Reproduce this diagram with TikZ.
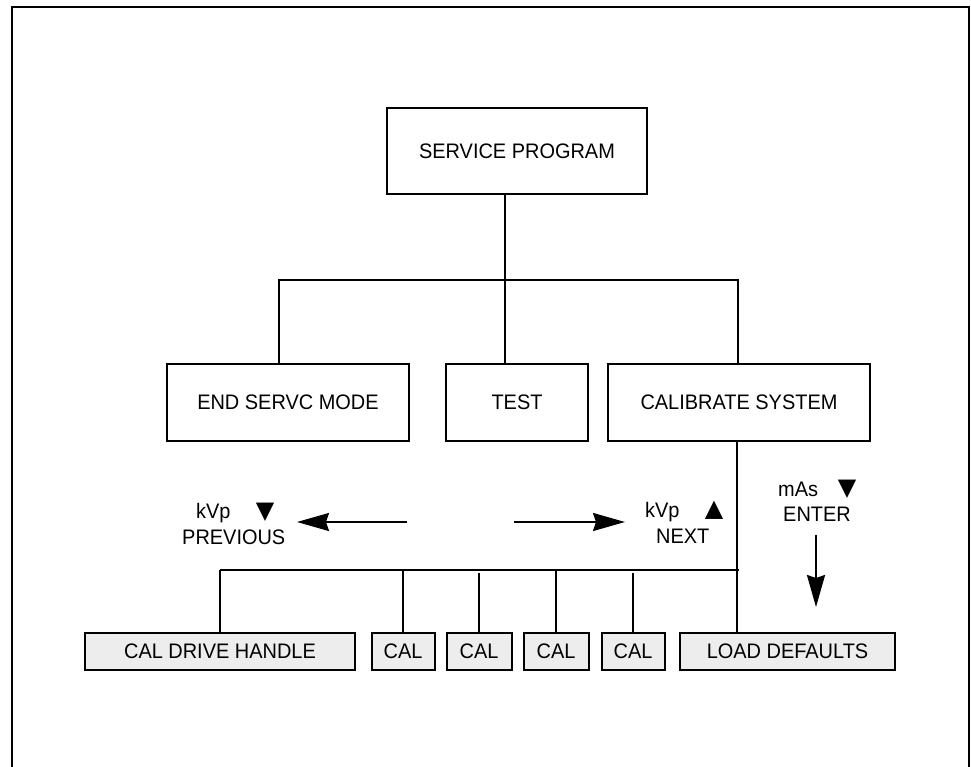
\documentclass[tikz,border=0pt]{standalone}
\usepackage{fontspec}
\setmainfont[FakeStretch=0.95]{Liberation Sans}
\newfontfamily\symfont{DejaVu Sans}
\usetikzlibrary{arrows.meta}
\begin{document}
\begin{tikzpicture}[x=1pt,y=-1pt,
  box/.style={draw, line width=2pt, inner sep=0pt, font=\fontsize{21}{25}\selectfont},
  calbox/.style={box, fill=black!7, minimum height=37pt},
  lbl/.style={inner sep=0pt, anchor=base west, font=\fontsize{21}{25}\selectfont},
  tri/.style={inner sep=0pt, font=\symfont\fontsize{24}{24}\selectfont},
  wire/.style={line width=2pt},
  arr/.style={line width=2pt, -{Stealth[length=32pt,width=18pt,inset=3pt]}}]
\useasboundingbox (0,0) rectangle (971,766);
\draw[line width=2.2pt] (12,780) -- (12,7) -- (969,7) -- (969,780);

% top and middle boxes
\node[box, minimum width=260pt, minimum height=86pt] (sp) at (517,151) {SERVICE PROGRAM};
\node[box, minimum width=242pt, minimum height=77pt] (es) at (288,402.5) {END SERVC MODE};
\node[box, minimum width=142pt, minimum height=77pt] (test) at (517,402.5) {TEST};
\node[box, minimum width=262pt, minimum height=77pt] (cal) at (739,402.5) {CALIBRATE SYSTEM};

% bottom boxes
\node[calbox, minimum width=270pt] (cdh) at (220,651.5) {CAL DRIVE HANDLE};
\node[calbox, minimum width=63pt] (c1) at (403,651.5) {CAL};
\node[calbox, minimum width=65pt] (c2) at (479,651.5) {CAL};
\node[calbox, minimum width=65pt] (c3) at (556,651.5) {CAL};
\node[calbox, minimum width=63pt] (c4) at (633,651.5) {CAL};
\node[calbox, minimum width=215pt] (ld) at (787.5,651.5) {LOAD DEFAULTS};

% upper tree
\coordinate (busC) at (505,280);
\coordinate (busL) at (279,280);
\coordinate (busR) at (738,280);
\draw[wire] (busC |- sp.south) -- (busC);
\draw[wire] (busL |- es.north) -- (busL) -- (busR) -- (busR |- cal.north);
\draw[wire] (busC) -- (busC |- test.north);

% lower tree
\coordinate (dn) at (737,570);
\coordinate (bbL) at (220,570);
\coordinate (bbR) at (739,570);
\coordinate (g2) at (479,573);
\coordinate (g4) at (633,573);
\draw[wire] (dn |- cal.south) -- (dn |- ld.north);
\draw[wire] (bbL) -- (bbR);
\draw[wire] (bbL) -- (cdh.north);
\draw[wire] (c1.north |- bbL) -- (c1.north);
\draw[wire] (g2) -- (c2.north);
\draw[wire] (c3.north |- bbL) -- (c3.north);
\draw[wire] (g4) -- (c4.north);

% arrows
\coordinate (plS) at (407,522);
\coordinate (plE) at (297,522);
\coordinate (prS) at (514,522);
\coordinate (prE) at (625,522);
\coordinate (pdS) at (816,535);
\coordinate (pdE) at (816,607);
\draw[arr] (plS) -- (plE);
\draw[arr] (prS) -- (prE);
\draw[arr] (pdS) -- (pdE);

% labels
\node[lbl] (kvpl) at (196,518) {kVp};
\node[lbl] (prev) at (182,544) {PREVIOUS};
\node[tri] (tdl) at (265,512.5) {▼};
\node[lbl] (kvpr) at (645,517) {kVp};
\node[lbl] (next) at (656,543) {NEXT};
\node[tri] (tur) at (714,510) {▲};
\node[lbl] (mas) at (778,496) {mAs};
\node[lbl] (enter) at (783,521) {ENTER};
\node[tri] (tdr) at (847,489) {▼};
\end{tikzpicture}
\end{document}
